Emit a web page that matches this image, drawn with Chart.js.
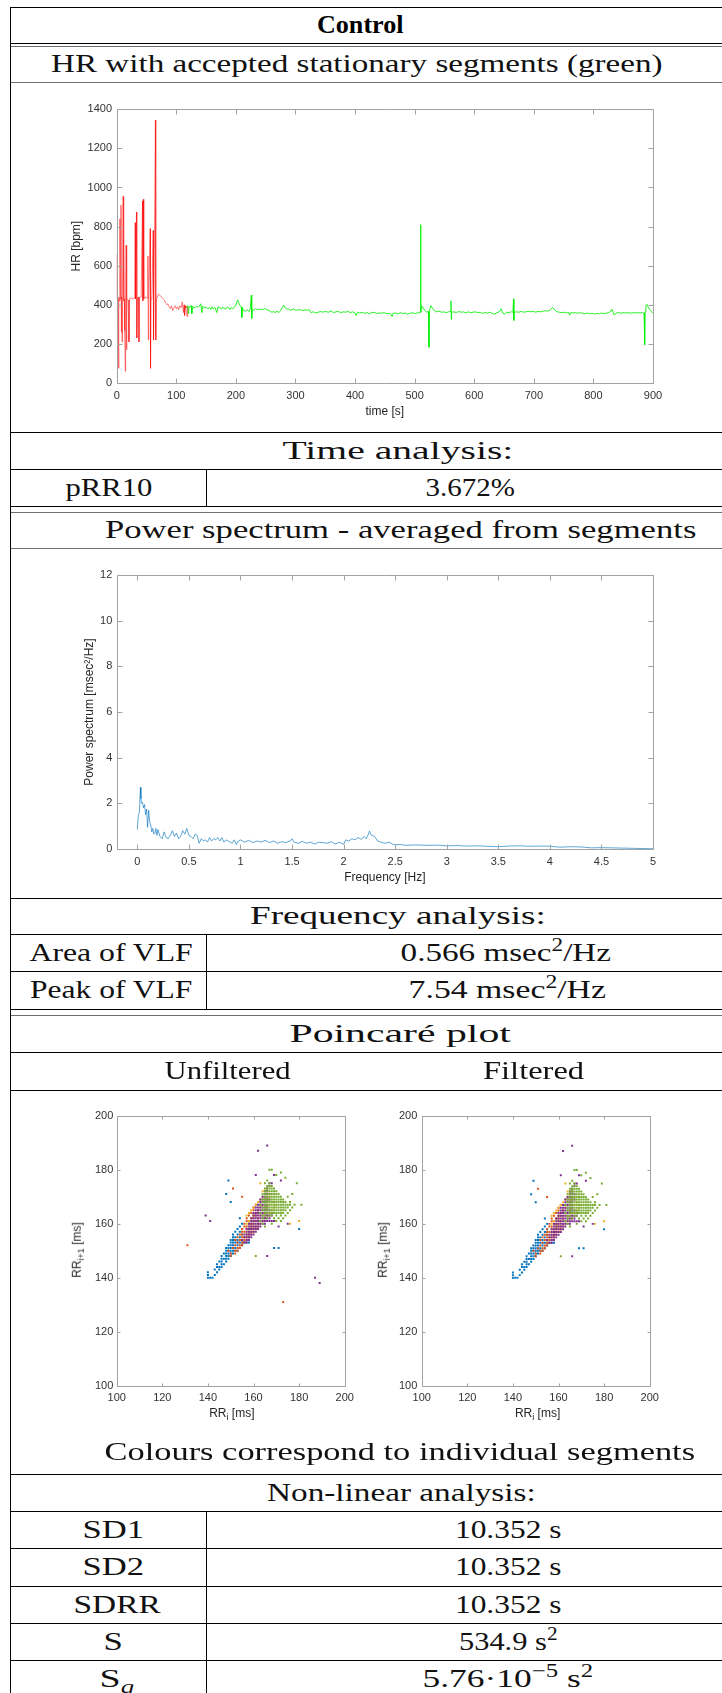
<!DOCTYPE html>
<html>
<head>
<meta charset="utf-8">
<script src="https://cdn.jsdelivr.net/npm/chart.js@4.4.1/dist/chart.umd.min.js"></script>
<style>
  body { margin: 0; background: #fff; }
  #page { position: relative; width: 722px; height: 1693px; overflow: hidden; background: #fff; }
  .ln { position: absolute; background: #000; }
  .txt { position: absolute; white-space: nowrap; font-family: "Liberation Serif", "Times New Roman", "DejaVu Serif", serif; line-height: 1; color: #111; transform-origin: 50% 50%; }
  .txt.bold { font-weight: bold; color: #000; }
  .txt sup, .txt sub { font-size: 0.7em; line-height: 0; }
  .ax { position: absolute; white-space: nowrap; font-family: 'Liberation Sans', Arial, sans-serif; font-size: 12px; color: #262626; line-height: 1; }
  .ax sub { font-size: 0.75em; line-height: 0; }
  canvas { position: absolute; }
</style>
</head>
<body>
<div id="page">
  <canvas id="hrChart" width="620" height="326" style="left:60px;top:98px"></canvas>
  <canvas id="psdChart" width="620" height="326" style="left:60px;top:564px"></canvas>
  <canvas id="poinRaw" width="300" height="320" style="left:60px;top:1105px"></canvas>
  <canvas id="poinFilt" width="300" height="320" style="left:365px;top:1105px"></canvas>
</div>
<script>
// --- HR (t [s], HR [bpm]) : rejected part (red) and accepted stationary part (green)
const hrRed = [[0,440],[0.4,660],[0.8,420],[1.2,540],[1.6,250],[2.2,430],[3.2,75],[3.8,440],[4.6,420],[5.4,840],[6,430],[7.2,910],[7.8,260],[8.4,440],[9,210],[9.6,430],[10.8,955],[11.4,420],[12,835],[12.6,430],[13.4,270],[14.4,60],[15,430],[15.8,705],[16.4,170],[17.2,430],[19,425],[20.6,210],[21.4,430],[24,435],[27,430],[30.2,435],[31,820],[31.6,430],[33.2,875],[33.8,230],[34.6,435],[36.5,440],[37.4,210],[38.2,435],[41,440],[43.4,930],[44,420],[44.6,940],[45.2,870],[45.8,430],[48,440],[51,435],[52.4,650],[53,220],[53.8,430],[56.2,790],[56.8,75],[57.6,430],[59,435],[61.2,780],[61.8,220],[62.6,430],[64,430],[65,1345],[65.6,220],[66.4,430],[68,440],[70,455],[72,450],[75,440],[78,430],[80,425],[82,410],[84,400],[86,405],[88,390],[90,380],[92,395],[94,370],[96,385],[98,395],[100,380],[102,390],[104,375],[106,395],[108,385],[110,415],[112,360],[113,400],[114,345],[115,395],[116,385],[118,340],[119,390]];
const hrGreen = [[115,390],[117,385],[119,395],[120,355],[121,392],[123,388],[125,395],[126,355],[128,390],[131,385],[134,392],[137,388],[140,400],[141,405],[143,360],[144,392],[147,385],[150,388],[153,380],[156,385],[158,375],[160,390],[162,380],[165,385],[168,360],[170,390],[173,385],[176,378],[178,388],[180,382],[183,378],[186,390],[188,385],[190,375],[192,385],[195,380],[198,392],[200,395],[202,420],[203,425],[205,410],[207,395],[209,390],[210,335],[211,385],[213,370],[216,368],[219,375],[222,365],[224,378],[226,450],[226.6,330],[227.5,375],[230,372],[233,380],[236,376],[240,378],[244,375],[248,380],[251,378],[254,372],[257,368],[260,362],[263,365],[266,360],[269,368],[272,360],[275,370],[278,385],[280,398],[282,388],[285,378],[288,380],[291,372],[294,375],[297,378],[300,372],[304,374],[308,375],[312,370],[316,374],[320,372],[323,375],[326,360],[330,364],[334,358],[338,362],[342,366],[346,362],[350,366],[355,362],[360,368],[364,360],[368,364],[372,366],[376,360],[380,364],[384,362],[388,366],[392,360],[396,364],[400,358],[402,345],[404,362],[408,358],[412,362],[416,356],[420,360],[424,355],[428,360],[432,362],[436,355],[440,358],[444,357],[448,360],[452,356],[456,355],[460,353],[462,340],[464,356],[468,358],[472,353],[476,360],[480,355],[484,358],[488,352],[492,356],[496,360],[500,355],[504,358],[507,360],[509,362],[510,810],[510.6,362],[512,395],[514,385],[517,372],[520,362],[523,366],[524,183],[524.6,366],[527,395],[530,382],[533,370],[537,364],[541,367],[545,362],[549,364],[553,360],[557,364],[560,366],[561,420],[561.5,325],[562,362],[566,364],[570,360],[574,366],[578,362],[582,364],[586,358],[590,364],[594,360],[598,362],[602,364],[606,360],[610,362],[614,356],[618,360],[622,358],[626,362],[630,356],[634,352],[638,360],[642,364],[645,380],[648,357],[651,352],[654,362],[658,360],[662,364],[665,362],[666,430],[666.5,320],[667,362],[671,364],[675,362],[679,366],[683,362],[687,364],[691,367],[695,364],[699,367],[703,362],[707,366],[711,364],[715,367],[719,370],[723,368],[727,372],[730,382],[732,386],[735,374],[739,364],[743,362],[747,360],[751,362],[755,358],[759,360],[760,347],[762,360],[766,358],[770,360],[774,357],[778,360],[782,356],[786,354],[790,358],[794,354],[798,357],[802,352],[806,356],[810,354],[814,358],[818,354],[822,358],[826,360],[830,370],[831,377],[833,362],[835,347],[838,358],[842,360],[846,357],[850,360],[854,358],[858,360],[862,357],[866,360],[870,358],[874,360],[878,358],[882,360],[885,357],[886,195],[886.6,362],[888,397],[890,402],[892,387],[894,377],[896,372],[898,364],[900,357]];
const hrTimeTicks = [0, 100, 200, 300, 400, 500, 600, 700, 800, 900];
const hrTicks = [0, 200, 400, 600, 800, 1000, 1200, 1400];

// --- averaged power spectrum (f [Hz], P [msec^2/Hz])
const psd = [[0,0.85],[0.01,1.5],[0.02,1.6],[0.03,2.7],[0.035,2.2],[0.04,2.0],[0.05,2.05],[0.06,1.8],[0.07,1.95],[0.08,1.5],[0.09,1.75],[0.10,0.95],[0.11,1.7],[0.12,1.2],[0.13,1.05],[0.14,0.75],[0.15,0.9],[0.16,0.65],[0.17,0.7],[0.18,0.9],[0.19,0.6],[0.20,0.85],[0.22,0.55],[0.24,0.45],[0.26,0.75],[0.28,0.5],[0.30,0.45],[0.32,0.6],[0.34,0.8],[0.36,0.55],[0.38,0.7],[0.40,0.45],[0.42,0.55],[0.44,0.8],[0.46,0.65],[0.48,0.9],[0.50,0.6],[0.52,0.55],[0.54,0.45],[0.56,0.65],[0.58,0.6],[0.60,0.25],[0.62,0.45],[0.64,0.35],[0.66,0.4],[0.68,0.3],[0.70,0.5],[0.72,0.35],[0.74,0.45],[0.76,0.4],[0.78,0.5],[0.80,0.35],[0.82,0.5],[0.84,0.3],[0.86,0.4],[0.88,0.35],[0.90,0.3],[0.92,0.25],[0.94,0.4],[0.96,0.2],[0.98,0.35],[1.00,0.4],[1.04,0.3],[1.08,0.38],[1.12,0.28],[1.16,0.35],[1.20,0.3],[1.24,0.38],[1.28,0.28],[1.32,0.35],[1.36,0.25],[1.40,0.32],[1.44,0.28],[1.48,0.35],[1.50,0.45],[1.52,0.3],[1.56,0.25],[1.60,0.33],[1.64,0.25],[1.68,0.3],[1.72,0.22],[1.76,0.3],[1.80,0.28],[1.84,0.25],[1.88,0.32],[1.92,0.22],[1.96,0.3],[2.00,0.2],[2.02,0.4],[2.05,0.35],[2.08,0.45],[2.11,0.4],[2.14,0.5],[2.17,0.42],[2.20,0.55],[2.22,0.45],[2.24,0.65],[2.25,0.78],[2.27,0.6],[2.30,0.55],[2.33,0.35],[2.36,0.3],[2.40,0.25],[2.44,0.3],[2.48,0.2],[2.50,0.18],[2.55,0.2],[2.60,0.16],[2.70,0.18],[2.80,0.16],[2.90,0.17],[3.00,0.14],[3.10,0.15],[3.20,0.13],[3.30,0.14],[3.40,0.12],[3.50,0.1],[3.60,0.13],[3.70,0.14],[3.80,0.12],[3.90,0.13],[4.00,0.12],[4.10,0.08],[4.20,0.1],[4.30,0.09],[4.40,0.05],[4.50,0.06],[4.60,0.05],[4.70,0.04],[4.80,0.03],[4.90,0.02],[5.00,0.01]];
const freqTicks = [0, 0.5, 1, 1.5, 2, 2.5, 3, 3.5, 4, 4.5, 5];
const psdTicks = [0, 2, 4, 6, 8, 10, 12];

// --- Poincaré plot: RR_i -> RR_i+1 [ms], one list per segment, rows = [RR_i+1, [RR_i ...]]
const segColors = ['#0072BD', '#D95319', '#EDB120', '#7E2F8E', '#77AC30'];
const seg1 = [[140,[140,141,142]],[141,[140,143]],[142,[140,144]],[143,[143,145]],[144,[144,145,146]],[145,[144,146,147]],[146,[145,146,148]],[147,[146,147,148,149]],[148,[146,148,149,150]],[149,[147,148,149,150,151]],[150,[148,149,150,151,152,153]],[151,[148,149,150,151,152,154]],[152,[149,150,151,153,155]],[153,[150,151,152,153,154,155,156,157,158]],[154,[150,151,152,153]],[155,[151,152,154]],[156,[151,153,155]],[157,[152,154]],[158,[153,155]],[159,[154]],[160,[155]],[162,[154]],[168,[150]],[171,[148]],[176,[149]],[151,[169,171]],[158,[180]]];
const seg2 = [[148,[150]],[149,[150,152]],[150,[149,152,153]],[151,[151,153,154]],[152,[152,154,155]],[153,[153,155,156]],[154,[152,154,155,156,157]],[155,[153,155,156,157,158]],[156,[154,155,157,158,159]],[157,[155,156,158,159,160]],[158,[155,157,158,159,160,161]],[159,[156,157,159,160,161]],[160,[156,158,159,160,162]],[161,[157,158,160,161]],[162,[157,159,160,162]],[163,[158,160,161]],[164,[159,161]],[165,[160,162]],[166,[160]],[167,[161]],[173,[151]],[170,[155]]];
const seg3 = [[155,[156]],[157,[157,160]],[158,[158,161]],[159,[159,162]],[160,[157,160,163,176]],[161,[158,161,164,180]],[162,[159,162,165]],[163,[157,160,163,166]],[164,[158,161,164,167]],[165,[159,162,165,168]],[166,[160,163,166,169]],[167,[161,164,167,170]],[168,[162,165,168]],[169,[163,166]],[170,[164,167]],[171,[165]],[172,[164,166]],[175,[163]]];
const seg4 = [[153,[156,157]],[154,[155,157,158]],[155,[156,157,158,159]],[156,[156,157,158,159,160]],[157,[157,158,159,160,161]],[158,[157,158,159,160,161,162]],[159,[158,159,160,161,162,163,171]],[160,[158,159,160,161,162,163,164,165,175]],[161,[159,160,161,162,163,164,165,166,167,168,169]],[162,[159,160,161,162,163,164,165,166,167]],[163,[160,161,162,163,164,165,166,167,168]],[164,[160,161,162,163,164,165,166,168]],[165,[161,162,163,164,165,166,167]],[166,[161,162,163,164,165,166]],[167,[162,163,164,165,166]],[168,[163,164,165,166]],[169,[163,164,165,166,167]],[170,[164,165,166]],[171,[165,166,167]],[172,[165,166]],[173,[166]],[174,[167]],[175,[167,168]],[176,[172]],[178,[161,169]],[187,[162]],[189,[166]],[148,[166]]];
const seg5 = [[159,[165]],[160,[164,168]],[161,[163,170,172]],[162,[164,166,169,171,173]],[163,[164,165,167,168,170,172,174]],[164,[163,165,166,167,168,169,170,171,172,173,175]],[165,[164,165,166,167,168,169,170,171,172,173,174,176]],[166,[164,165,166,167,168,169,170,171,172,173,174,175,177]],[167,[163,165,166,167,168,169,170,171,172,173,174,175,176,178,181]],[168,[164,165,166,167,168,169,170,171,172,173,174,176]],[169,[164,165,166,167,168,169,170,171,172,173]],[170,[165,166,167,168,169,170,171,172,175]],[171,[164,165,166,167,168,169,170,171,177]],[172,[165,166,167,168,169,170]],[173,[165,166,167,168,169]],[174,[166,167,168]],[175,[165,167,179]],[176,[166]],[177,[174]],[178,[170]],[179,[172]],[180,[167,168]],[148,[161]]];
// outliers removed by the filter (segment index, RR_i, RR_i+1)
const rawOnly = [[1,131,152],[1,173,131],[3,139,163],[3,141,161],[3,187,140],[3,189,138]];
const rrTicks = [100, 120, 140, 160, 180, 200];

// MATLAB-like box with inward ticks on all four sides
const matlabBox = {
  id: 'matlabBox',
  afterDatasetsDraw(chart, args, opts) {
    const {ctx, chartArea: a, scales} = chart;
    const len = opts.tickLen || 5;
    const L = Math.round(a.left) + 0.5, R = Math.round(a.right) + 0.5;
    const T = Math.round(a.top) + 0.5, B = Math.round(a.bottom) + 0.5;
    ctx.save();
    ctx.strokeStyle = '#a3a3a3';
    ctx.lineWidth = 1;
    ctx.beginPath();
    ctx.rect(L, T, R - L, B - T);
    scales.x.ticks.forEach(t => {
      const px = Math.round(scales.x.getPixelForValue(t.value)) + 0.5;
      ctx.moveTo(px, B); ctx.lineTo(px, B - len);
      ctx.moveTo(px, T); ctx.lineTo(px, T + len);
    });
    scales.y.ticks.forEach(t => {
      const py = Math.round(scales.y.getPixelForValue(t.value)) + 0.5;
      ctx.moveTo(L, py); ctx.lineTo(L + len, py);
      ctx.moveTo(R, py); ctx.lineTo(R - len, py);
    });
    ctx.stroke();
    ctx.restore();
  }
};

function axis(tickValues, min, max, size, tickPad, title, titlePad) {
  return {
    type: 'linear', min, max,
    grid: {display: false, drawTicks: false},
    border: {display: false},
    ticks: {
      padding: tickPad, color: '#333', autoSkip: false, maxRotation: 0,
      font: {family: 'Liberation Sans', size: 11},
      callback: v => String(v)
    },
    afterBuildTicks: s => { s.ticks = tickValues.map(v => ({value: v})); },
    afterFit: s => { if (s.isHorizontal()) s.height = size; else s.width = size; },
    title: title ? {display: true, text: title, color: '#262626', padding: titlePad,
                    font: {family: 'Liberation Sans', size: 12}} : {display: false}
  };
}

function makeChart(id, datasets, o) {
  return new Chart(document.getElementById(id), {
    type: 'scatter',
    data: {datasets},
    plugins: [matlabBox],
    options: {
      responsive: false, animation: false, devicePixelRatio: 1,
      layout: {padding: {top: o.padTop, right: o.padRight, left: 0, bottom: 0}},
      plugins: {legend: {display: false}, tooltip: {enabled: false}, matlabBox: {tickLen: o.tickLen}},
      scales: {x: o.x, y: o.y}
    }
  });
}

const toXY = arr => arr.map(([x, y]) => ({x, y}));
const lineSet = (arr, color, w) => ({data: toXY(arr), showLine: true, borderColor: color, borderWidth: w,
  pointRadius: 0, fill: false, tension: 0});

// HR with accepted stationary segments
makeChart('hrChart', [lineSet(hrRed, 'rgba(255,0,0,0.85)', 0.6), lineSet(hrGreen, 'rgba(0,240,0,0.95)', 0.9)], {
  padTop: 10, padRight: 27, tickLen: 5,
  x: axis(hrTimeTicks, 0, 900, 41, 6, 'time [s]', {top: 0, bottom: 4.8}),
  y: axis(hrTicks, 0, 1400, 56.7, 4.7, 'HR [bpm]', {top: 9.5, bottom: 0})
});

// Power spectrum
makeChart('psdChart', [lineSet(psd, 'rgba(0,114,189,0.7)', 0.9)], {
  padTop: 10, padRight: 27, tickLen: 5,
  x: axis(freqTicks, -0.2, 5, 41, 6.4, 'Frequency [Hz]', {top: 0, bottom: 4.8}),
  y: axis(psdTicks, 0, 12, 56.7, 4.4, 'Power spectrum [msec²/Hz]', {top: 22.8, bottom: 0})
});

// Poincaré plots
function poincareSets(withOutliers) {
  return [seg1, seg2, seg3, seg4, seg5].map((rows, i) => {
    const pts = rows.flatMap(([y, xs]) => xs.map(x => ({x, y})));
    if (withOutliers) rawOnly.filter(r => r[0] === i).forEach(r => pts.push({x: r[1], y: r[2]}));
    return {data: pts, backgroundColor: segColors[i], borderWidth: 0, pointStyle: 'rect',
            pointRadius: 1.4, order: 4 - i};
  });
}
makeChart('poinRaw', poincareSets(true), {
  padTop: 10.7, padRight: 13, tickLen: 3,
  x: axis(rrTicks, 100, 200, 39.3, 6.1, null),
  y: axis(rrTicks, 100, 200, 56.7, 3.4, null)
});
makeChart('poinFilt', poincareSets(false), {
  padTop: 10.7, padRight: 12, tickLen: 3,
  x: axis(rrTicks, 100, 200, 39.3, 6.1, null),
  y: axis(rrTicks, 100, 200, 56.7, 4.4, null)
});

// ---- table frame and texts
const page = document.getElementById('page');
function line(x, y, w, h, color) {
  const d = document.createElement('div');
  d.className = 'ln';
  Object.assign(d.style, {left: x + 'px', top: y + 'px', width: w + 'px', height: h + 'px'});
  if (color) d.style.background = color;
  page.appendChild(d);
}
[7, 43, 432, 469, 506, 898, 934, 971, 1009, 1052, 1090, 1474, 1511, 1548, 1586, 1623, 1660]
  .forEach(y => line(10, y, 712, 1));
[46, 82, 512, 548, 1015].forEach(y => line(10, y, 712, 1, '#6e6e6e'));
line(10, 7, 1, 1686);
[[469, 506], [934, 1009], [1511, 1693]].forEach(([a, b]) => line(206, a, 1, b - a));

// font size chosen so that the x-height of the serif font is ~12px
const probe = document.createElement('canvas').getContext('2d');
function sizeFor(weight) {
  probe.font = weight + ' 100px "Liberation Serif", "Times New Roman", "DejaVu Serif", serif';
  const xh = probe.measureText('x').actualBoundingBoxAscent || 46;
  return 12 * 100 / xh;
}
const fsNormal = sizeFor('normal'), fsBold = sizeFor('bold');

function text(html, cx, baseY, w, bold) {
  const el = document.createElement('div');
  el.className = 'txt' + (bold ? ' bold' : '');
  el.style.fontSize = (bold ? fsBold : fsNormal) + 'px';
  el.innerHTML = html + '<span style="display:inline-block;width:0;height:0"></span>';
  page.appendChild(el);
  const base = el.lastChild.offsetTop;
  const nw = el.offsetWidth;
  el.style.left = (cx - nw / 2) + 'px';
  el.style.top = (baseY - base) + 'px';
  el.style.transform = 'scaleX(' + (w / nw).toFixed(4) + ')';
}
text('Control', 360, 33, 86, true);
text('HR with accepted stationary segments (green)', 357, 72, 612);
text('Time analysis:', 398, 458.5, 231);
text('pRR10', 108.5, 495.5, 87);
text('3.672%', 470, 495.5, 89);
text('Power spectrum - averaged from segments', 400.5, 538, 591);
text('Frequency analysis:', 398, 924, 296);
text('Area of VLF', 110.6, 960.5, 163);
text('0.566 msec<sup>2</sup>/Hz', 506, 960.5, 211);
text('Peak of VLF', 111, 998, 162);
text('7.54 msec<sup>2</sup>/Hz', 507, 998, 198);
text('Poincaré plot', 400, 1041.5, 221);
text('Unfiltered', 227, 1079, 126);
text('Filtered', 533, 1079, 101);
text('Colours correspond to individual segments', 399.5, 1460, 591);
text('Non-linear analysis:', 401, 1500.5, 269);
text('SD1', 113, 1537.5, 61);
text('10.352 s', 508, 1537.5, 106);
text('SD2', 113, 1575, 61);
text('10.352 s', 508, 1575, 106);
text('SDRR', 116.6, 1612.5, 87);
text('10.352 s', 508, 1612.5, 106);
text('S', 113.5, 1649.5, 20);
text('534.9 s<sup>2</sup>', 508, 1649.5, 98);
text('S<sub><i>q</i></sub>', 117, 1687, 35);
text('5.76·10<sup>−5</sup> s<sup>2</sup>', 508, 1687, 171);

// Poincaré axis titles (with subscripts)
function axTitle(html, cx, cy, rotate) {
  const el = document.createElement('div');
  el.className = 'ax';
  el.innerHTML = html;
  page.appendChild(el);
  el.style.left = (cx - el.offsetWidth / 2) + 'px';
  el.style.top = (cy - el.offsetHeight / 2) + 'px';
  if (rotate) el.style.transform = 'rotate(-90deg)';
}
axTitle('RR<sub>i</sub> [ms]', 231.7, 1413);
axTitle('RR<sub>i+1</sub> [ms]', 76.7, 1250, true);
axTitle('RR<sub>i</sub> [ms]', 537.4, 1413);
axTitle('RR<sub>i+1</sub> [ms]', 382.7, 1250, true);
</script>
</body>
</html>
